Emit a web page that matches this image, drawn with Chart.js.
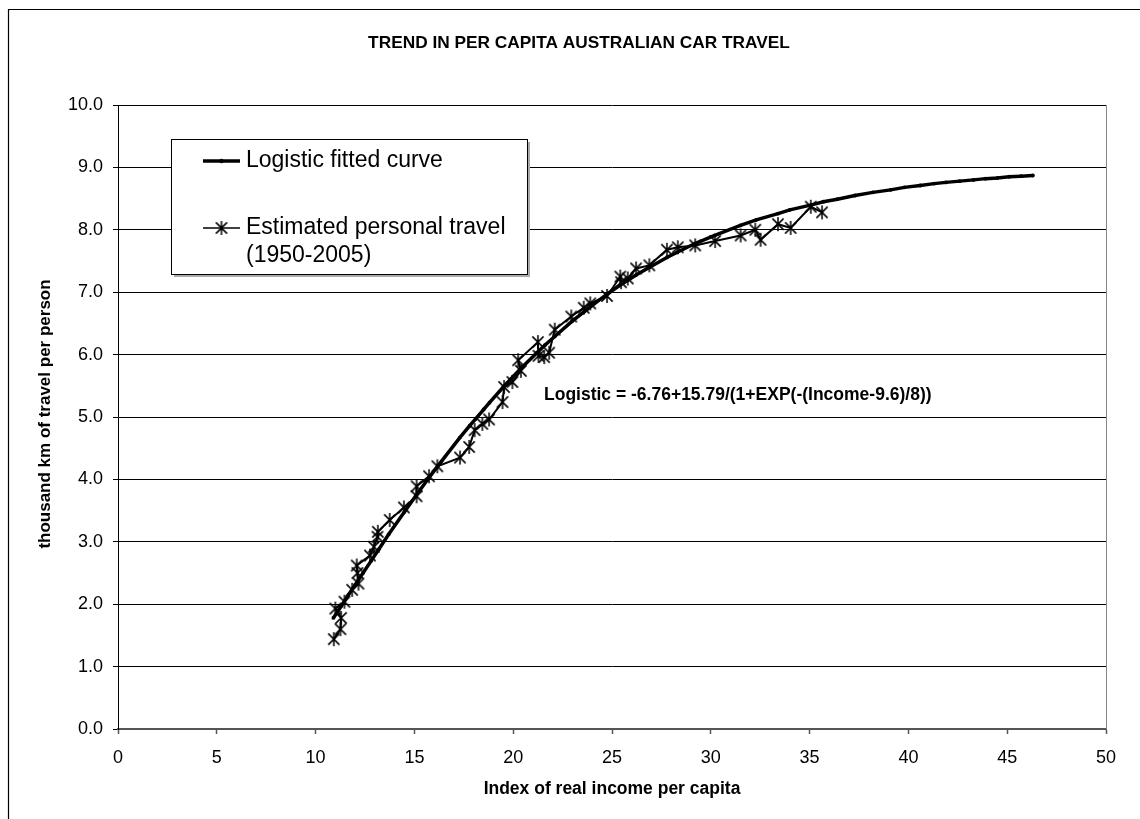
<!DOCTYPE html>
<html>
<head>
<meta charset="utf-8">
<title>Trend in per capita Australian car travel</title>
<script src="https://cdn.jsdelivr.net/npm/chart.js@4/dist/chart.umd.min.js"></script>
<style>
  body { margin: 0; background: #fff; }
  #wrap { width: 1140px; height: 819px; }
</style>
</head>
<body>
<div id="wrap"><canvas id="chart" width="1140" height="819"></canvas></div>
<script>
// ---- data ----
const incomeEstimated = [10.92, 11.26, 11.29, 11.0, 11.46, 11.85, 12.17, 12.12, 12.08, 12.75,
  12.95, 13.13, 13.15, 13.75, 14.47, 15.11, 15.11, 15.74, 16.16, 17.31,
  17.77, 18.05, 18.44, 18.78, 19.46, 19.54, 19.96, 20.39, 20.25, 21.25,
  21.28, 21.57, 21.82, 22.1, 22.94, 23.57, 23.9, 24.75, 25.42, 25.46,
  25.8, 26.22, 26.89, 27.78, 28.33, 29.21, 30.22, 31.51, 32.25, 32.52,
  33.4, 34.04, 35.06, 35.63];
const travelEstimated = [1.44, 1.60, 1.78, 1.93, 2.04, 2.23, 2.33, 2.50, 2.62, 2.78,
  2.92, 3.08, 3.16, 3.35, 3.55, 3.73, 3.89, 4.05, 4.21, 4.35,
  4.52, 4.79, 4.89, 4.96, 5.24, 5.48, 5.56, 5.74, 5.91, 6.20,
  5.98, 5.96, 6.03, 6.40, 6.61, 6.75, 6.82, 6.94, 7.25, 7.16,
  7.22, 7.38, 7.43, 7.68, 7.72, 7.75, 7.82, 7.91, 8.00, 7.84,
  8.09, 8.03, 8.37, 8.28];

const incomeFitted = [10.9, 11.3, 11.6, 12.0, 12.4, 12.8, 13.2, 13.7, 14.5, 15.1,
  15.7, 16.2, 17.3, 17.8, 18.1, 18.5, 18.8, 19.5, 20.0, 20.4,
  21.2, 21.6, 22.1, 23.0, 23.6, 24.0, 24.8, 25.4, 25.8, 26.2,
  26.9, 27.8, 28.3, 29.2, 30.2, 31.5, 32.3, 33.4, 34.0, 35.1,
  35.7, 36.4, 37.3, 38.2, 39.1, 39.8, 40.6, 41.3, 41.9, 42.6,
  43.3, 43.9, 44.5, 45.1, 45.7, 46.3];
const travelFitted = [1.78, 1.97, 2.12, 2.31, 2.50, 2.69, 2.88, 3.12, 3.48, 3.75,
  4.01, 4.22, 4.67, 4.86, 4.97, 5.12, 5.23, 5.48, 5.65, 5.78,
  6.03, 6.15, 6.29, 6.54, 6.69, 6.79, 6.98, 7.11, 7.19, 7.27,
  7.40, 7.56, 7.64, 7.78, 7.91, 8.07, 8.16, 8.26, 8.32, 8.40,
  8.45, 8.49, 8.55, 8.60, 8.64, 8.68, 8.71, 8.74, 8.76, 8.78,
  8.80, 8.82, 8.83, 8.85, 8.86, 8.87];

const xTicks = [0, 5, 10, 15, 20, 25, 30, 35, 40, 45, 50];
const yTicks = [0, 1, 2, 3, 4, 5, 6, 7, 8, 9, 10];

const chartTitle = "TREND IN PER CAPITA AUSTRALIAN CAR TRAVEL";
const xTitle = "Index of real income per capita";
const yTitle = "thousand km of travel per person";
const formulaText = "Logistic = -6.76+15.79/(1+EXP(-(Income-9.6)/8))";
const legendFitted = ["Logistic fitted curve"];
const legendEstimated = ["Estimated personal travel", "(1950-2005)"];

const FONT = '"Liberation Sans", Arial, sans-serif';

// asterisk marker like the spreadsheet one (X plus vertical stroke)
function makeAsterisk(size) {
  const c = document.createElement("canvas");
  c.width = size; c.height = size;
  const g = c.getContext("2d");
  const m = size / 2, r = size / 2 - 1;
  g.strokeStyle = "#000";
  g.lineWidth = 1.5;
  g.beginPath();
  g.moveTo(m - r * 0.8, m - r * 0.8); g.lineTo(m + r * 0.8, m + r * 0.8);
  g.moveTo(m + r * 0.8, m - r * 0.8); g.lineTo(m - r * 0.8, m + r * 0.8);
  g.moveTo(m, m - r); g.lineTo(m, m + r);
  g.stroke();
  return c;
}
const asterisk = makeAsterisk(16);

const toPoints = (xs, ys) => xs.map((x, i) => ({ x: x, y: ys[i] }));

// -------------------------
// texts, frame and legend box drawn on the canvas
// -------------------------
const decorPlugin = {
  id: "decor",
  beforeDraw(chart) {
    const ctx = chart.ctx;
    ctx.save();
    ctx.fillStyle = "#fff";
    ctx.fillRect(0, 0, chart.width, chart.height);
    ctx.restore();
  },
  afterDraw(chart) {
    const ctx = chart.ctx;
    const area = chart.chartArea;
    ctx.save();

    // outer frame (runs off the right/bottom edge)
    ctx.strokeStyle = "#000";
    ctx.lineWidth = 1.2;
    ctx.beginPath();
    ctx.moveTo(8.5, chart.height);
    ctx.lineTo(8.5, 9.5);
    ctx.lineTo(chart.width, 9.5);
    ctx.stroke();

    // plot area right border
    ctx.strokeStyle = "#888";
    ctx.lineWidth = 1;
    ctx.beginPath();
    ctx.moveTo(area.right + 0.5, area.top);
    ctx.lineTo(area.right + 0.5, area.bottom);
    ctx.stroke();

    ctx.fillStyle = "#000";
    ctx.textBaseline = "middle";

    // title
    ctx.font = "bold 17.3px " + FONT;
    ctx.textAlign = "center";
    ctx.fillText(chartTitle, 579, 43);

    // axis titles
    ctx.font = "bold 17.5px " + FONT;
    ctx.fillText(xTitle, 612, 789);
    ctx.save();
    ctx.font = "bold 17px " + FONT;
    ctx.translate(45, 414);
    ctx.rotate(-Math.PI / 2);
    ctx.fillText(yTitle, 0, 0);
    ctx.restore();

    // formula note
    ctx.textAlign = "left";
    ctx.fillText(formulaText, 544, 395);

    // legend box
    const bx = 171, by = 139, bw = 356, bh = 135;
    ctx.fillStyle = "#aaa";
    ctx.fillRect(bx + 3, by + 3, bw, bh);
    ctx.fillStyle = "#fff";
    ctx.fillRect(bx, by, bw, bh);
    ctx.strokeStyle = "#000";
    ctx.lineWidth = 1;
    ctx.strokeRect(bx + 0.5, by + 0.5, bw, bh);

    // legend: fitted curve sample
    ctx.strokeStyle = "#000";
    ctx.lineWidth = 3.5;
    ctx.beginPath();
    ctx.moveTo(203, 161); ctx.lineTo(240, 161);
    ctx.stroke();
    ctx.fillStyle = "#000";
    ctx.beginPath();
    ctx.arc(221.5, 161, 2.2, 0, Math.PI * 2);
    ctx.fill();

    // legend: estimated sample
    ctx.lineWidth = 1.6;
    ctx.beginPath();
    ctx.moveTo(203, 228); ctx.lineTo(240, 228);
    ctx.stroke();
    ctx.drawImage(asterisk, 221.5 - 8, 228 - 8);

    ctx.font = "23px " + FONT;
    ctx.fillText(legendFitted[0], 246, 161);
    ctx.fillText(legendEstimated[0], 246, 228);
    ctx.fillText(legendEstimated[1], 246, 256);

    ctx.restore();
  }
};

new Chart(document.getElementById("chart"), {
  type: "scatter",
  data: {
    datasets: [
      {
        label: legendFitted[0],
        data: toPoints(incomeFitted, travelFitted),
        showLine: true,
        borderColor: "#000",
        backgroundColor: "#000",
        borderWidth: 3.5,
        pointStyle: "circle",
        pointRadius: 1.9,
        pointBorderWidth: 0,
        tension: 0,
      },
      {
        label: legendEstimated.join(" "),
        data: toPoints(incomeEstimated, travelEstimated),
        showLine: true,
        borderColor: "#000",
        backgroundColor: "#000",
        borderWidth: 2,
        pointStyle: asterisk,
        pointRadius: 8,
        tension: 0,
      },
    ],
  },
  options: {
    responsive: false,
    animation: false,
    layout: { padding: { top: 105, right: 34, left: 0, bottom: 0 } },
    plugins: {
      legend: { display: false },
      title: { display: false },
      tooltip: { enabled: false },
    },
    scales: {
      x: {
        type: "linear",
        min: xTicks[0],
        max: xTicks[xTicks.length - 1],
        afterBuildTicks: (s) => { s.ticks = xTicks.map((v) => ({ value: v })); },
        afterFit: (s) => { s.height = 90; },
        ticks: {
          color: "#000",
          font: { family: FONT, size: 18 },
          padding: 13,
          maxRotation: 0,
        },
        grid: {
          drawOnChartArea: false,
          drawTicks: true,
          tickLength: 5,
          tickColor: "#555",
          tickWidth: 1.5,
        },
        border: { color: "#555", width: 2 },
      },
      y: {
        type: "linear",
        min: yTicks[0],
        max: yTicks[yTicks.length - 1],
        afterBuildTicks: (s) => { s.ticks = yTicks.map((v) => ({ value: v })); },
        afterFit: (s) => { s.width = 118; },
        ticks: {
          color: "#000",
          font: { family: FONT, size: 18 },
          padding: 10,
          callback: (v) => Number(v).toFixed(1),
        },
        grid: {
          color: "#000",
          lineWidth: 1,
          tickLength: 5,
          tickColor: "#000",
        },
        border: { color: "#000", width: 1 },
      },
    },
  },
  plugins: [decorPlugin],
});
</script>
</body>
</html>
